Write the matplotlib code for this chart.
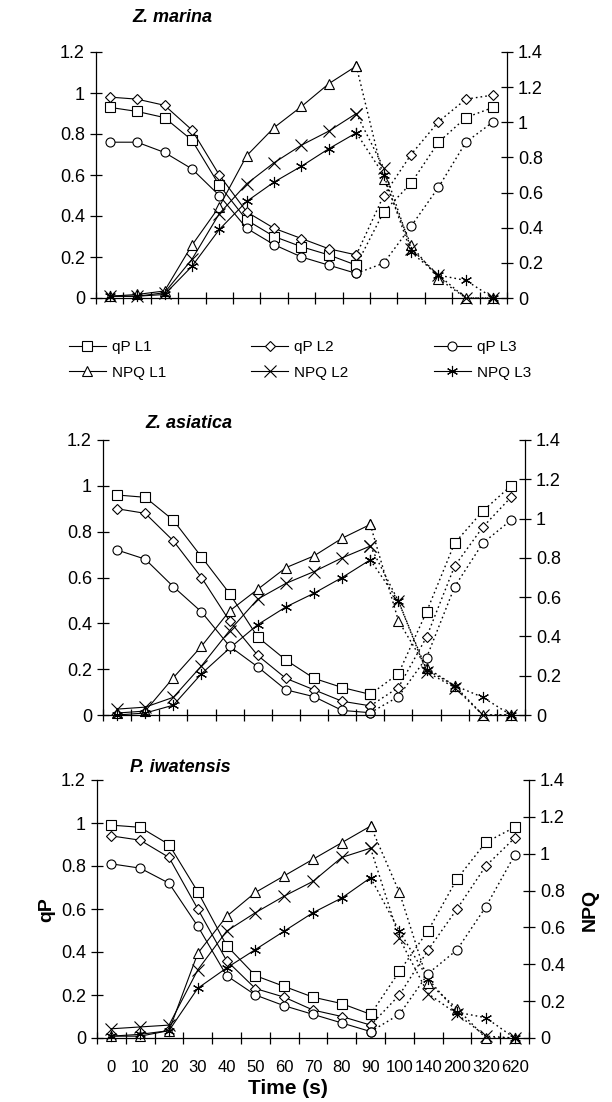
import numpy as np
import matplotlib.pyplot as plt

plt.rcParams['font.family'] = ['Liberation Sans', 'DejaVu Sans']

times = ['0', '10', '20', '30', '40', '50', '60', '70', '80', '90',
         '100', '140', '200', '320', '620']

# Z. marina
zm_qp_l1 = [0.93, 0.91, 0.88, 0.77, 0.55, 0.38, 0.30, 0.25, 0.21, 0.16, 0.42, 0.56, 0.76, 0.88, 0.93]
zm_qp_l2 = [0.98, 0.97, 0.94, 0.82, 0.60, 0.42, 0.34, 0.29, 0.24, 0.21, 0.50, 0.70, 0.86, 0.97, 0.99]
zm_qp_l3 = [0.76, 0.76, 0.71, 0.63, 0.50, 0.34, 0.26, 0.20, 0.16, 0.12, 0.17, 0.35, 0.54, 0.76, 0.86]
zm_npq_l1 = [0.01, 0.02, 0.04, 0.30, 0.52, 0.81, 0.97, 1.09, 1.22, 1.32, 0.68, 0.30, 0.11, 0.0, 0.0]
zm_npq_l2 = [0.01, 0.01, 0.03, 0.22, 0.48, 0.65, 0.77, 0.87, 0.95, 1.05, 0.74, 0.28, 0.13, 0.0, 0.0]
zm_npq_l3 = [0.01, 0.01, 0.02, 0.18, 0.39, 0.55, 0.66, 0.75, 0.85, 0.94, 0.70, 0.26, 0.13, 0.10, 0.0]

# Z. asiatica
za_qp_l1 = [0.96, 0.95, 0.85, 0.69, 0.53, 0.34, 0.24, 0.16, 0.12, 0.09, 0.18, 0.45, 0.75, 0.89, 1.00]
za_qp_l2 = [0.90, 0.88, 0.76, 0.60, 0.41, 0.26, 0.16, 0.11, 0.06, 0.04, 0.12, 0.34, 0.65, 0.82, 0.95]
za_qp_l3 = [0.72, 0.68, 0.56, 0.45, 0.30, 0.21, 0.11, 0.08, 0.02, 0.01, 0.08, 0.25, 0.56, 0.75, 0.85]
za_npq_l1 = [0.01, 0.02, 0.19, 0.35, 0.53, 0.64, 0.75, 0.81, 0.90, 0.97, 0.48, 0.24, 0.15, 0.0, 0.0]
za_npq_l2 = [0.03, 0.04, 0.09, 0.25, 0.43, 0.59, 0.67, 0.73, 0.80, 0.86, 0.58, 0.22, 0.14, 0.0, 0.0]
za_npq_l3 = [0.0, 0.01, 0.05, 0.21, 0.34, 0.46, 0.55, 0.62, 0.70, 0.79, 0.58, 0.23, 0.15, 0.09, 0.0]

# P. iwatensis
pi_qp_l1 = [0.99, 0.98, 0.90, 0.68, 0.43, 0.29, 0.24, 0.19, 0.16, 0.11, 0.31, 0.50, 0.74, 0.91, 0.98]
pi_qp_l2 = [0.94, 0.92, 0.84, 0.60, 0.36, 0.23, 0.19, 0.13, 0.10, 0.06, 0.20, 0.41, 0.60, 0.80, 0.93]
pi_qp_l3 = [0.81, 0.79, 0.72, 0.52, 0.29, 0.20, 0.15, 0.11, 0.07, 0.03, 0.11, 0.30, 0.41, 0.61, 0.85]
pi_npq_l1 = [0.01, 0.01, 0.04, 0.46, 0.66, 0.79, 0.88, 0.97, 1.06, 1.15, 0.79, 0.30, 0.16, 0.0, 0.0]
pi_npq_l2 = [0.05, 0.06, 0.07, 0.37, 0.58, 0.68, 0.77, 0.85, 0.98, 1.03, 0.54, 0.24, 0.13, 0.01, 0.0]
pi_npq_l3 = [0.01, 0.02, 0.04, 0.27, 0.38, 0.48, 0.58, 0.68, 0.76, 0.87, 0.58, 0.32, 0.14, 0.11, 0.0]

qp_labels = ['qP L1', 'qP L2', 'qP L3']
npq_labels = ['NPQ L1', 'NPQ L2', 'NPQ L3']
qp_markers = ['s', 'D', 'o']
qp_sizes = [7, 5.5, 6.5]
npq_markers = ['^', 'x', (6, 2, 0)]
npq_sizes = [7.5, 8, 8]

W, H = 612, 1102
fig = plt.figure(figsize=(W / 100, H / 100), dpi=100)


def px_axes(left, right, top, bottom):
    return fig.add_axes([left / W, 1 - bottom / H, (right - left) / W, (bottom - top) / H])


def draw_panel(ax, qp, npq, show_x):
    x = np.arange(len(times))
    ax2 = ax.twinx()
    handles = []
    for target, series, markers, sizes, labels in [(ax, qp, qp_markers, qp_sizes, qp_labels),
                                                    (ax2, npq, npq_markers, npq_sizes, npq_labels)]:
        for vals, mk, ms, lab in zip(series, markers, sizes, labels):
            style = dict(color='black', marker=mk, ms=ms, mfc='white', mec='black', mew=0.8, clip_on=False)
            # light phase solid, recovery phase dotted
            h, = target.plot(x[:10], vals[:10], lw=0.8, ls='-', label=lab, **style)
            target.plot(x[9:], vals[9:], lw=1.0, ls=(0, (1.2, 2.2)), **style)
            handles.append(h)

    ax.set_xlim(-0.5, len(times) - 0.5)
    ax.set_ylim(0, 1.2)
    ax2.set_ylim(0, 1.4)
    ax.set_yticks(np.arange(0, 1.21, 0.2))
    ax.set_yticklabels(['0', '0.2', '0.4', '0.6', '0.8', '1', '1.2'])
    ax2.set_yticks(np.arange(0, 1.41, 0.2))
    ax2.set_yticklabels(['0', '0.2', '0.4', '0.6', '0.8', '1', '1.2', '1.4'])

    ax.set_xticks(np.arange(-0.5, len(times), 1))
    ax.set_xticklabels([])
    ax.set_xticks(x, minor=True)
    if show_x:
        ax.set_xticklabels(times, minor=True, fontsize=12)
    ax.tick_params(axis='x', which='major', direction='inout', length=8, width=0.9)
    ax.tick_params(axis='x', which='minor', length=0, pad=16)
    ax.tick_params(axis='y', direction='inout', length=8, width=0.9, labelsize=13, pad=4)
    ax2.tick_params(axis='y', direction='inout', length=8, width=0.9, labelsize=13, pad=4)

    for a in (ax, ax2):
        a.spines['top'].set_visible(False)
        for s in a.spines.values():
            s.set_linewidth(0.9)
    ax.spines['right'].set_visible(False)
    ax2.spines['left'].set_visible(False)
    ax2.spines['bottom'].set_visible(False)
    ax.set_zorder(ax2.get_zorder() + 1)
    ax.patch.set_visible(False)
    return handles


ax_a = px_axes(96, 507, 52, 298)
handles = draw_panel(ax_a, [zm_qp_l1, zm_qp_l2, zm_qp_l3],
                     [zm_npq_l1, zm_npq_l2, zm_npq_l3], False)
fig.text(132 / W, 1 - 18 / H, 'Z. marina', fontsize=13, fontweight='bold', style='italic', va='center')

ax_b = px_axes(103, 525, 440, 715)
draw_panel(ax_b, [za_qp_l1, za_qp_l2, za_qp_l3],
           [za_npq_l1, za_npq_l2, za_npq_l3], False)
fig.text(145 / W, 1 - 424 / H, 'Z. asiatica', fontsize=13, fontweight='bold', style='italic', va='center')

ax_c = px_axes(97, 529, 780, 1038)
draw_panel(ax_c, [pi_qp_l1, pi_qp_l2, pi_qp_l3],
           [pi_npq_l1, pi_npq_l2, pi_npq_l3], True)
fig.text(130 / W, 1 - 768 / H, 'P. iwatensis', fontsize=13, fontweight='bold', style='italic', va='center')

fig.text(47 / W, 1 - 910 / H, 'qP', fontsize=14, fontweight='bold', rotation=90, ha='center', va='center')
fig.text(590 / W, 1 - 910 / H, 'NPQ', fontsize=14, fontweight='bold', rotation=90, ha='center', va='center')
fig.text(288 / W, 1 - 1088 / H, 'Time (s)', fontsize=15, fontweight='bold', ha='center', va='center')

# legend: column-major order so rows read qP / NPQ
order = [0, 3, 1, 4, 2, 5]
fig.legend([handles[i] for i in order], [handles[i].get_label() for i in order],
           ncol=3, loc='center', bbox_to_anchor=(300 / W, 1 - 360 / H), frameon=False,
           fontsize=11, handlelength=2.4, handletextpad=0.4, columnspacing=5.6, labelspacing=0.75)

fig.savefig('out.png', dpi=100)
